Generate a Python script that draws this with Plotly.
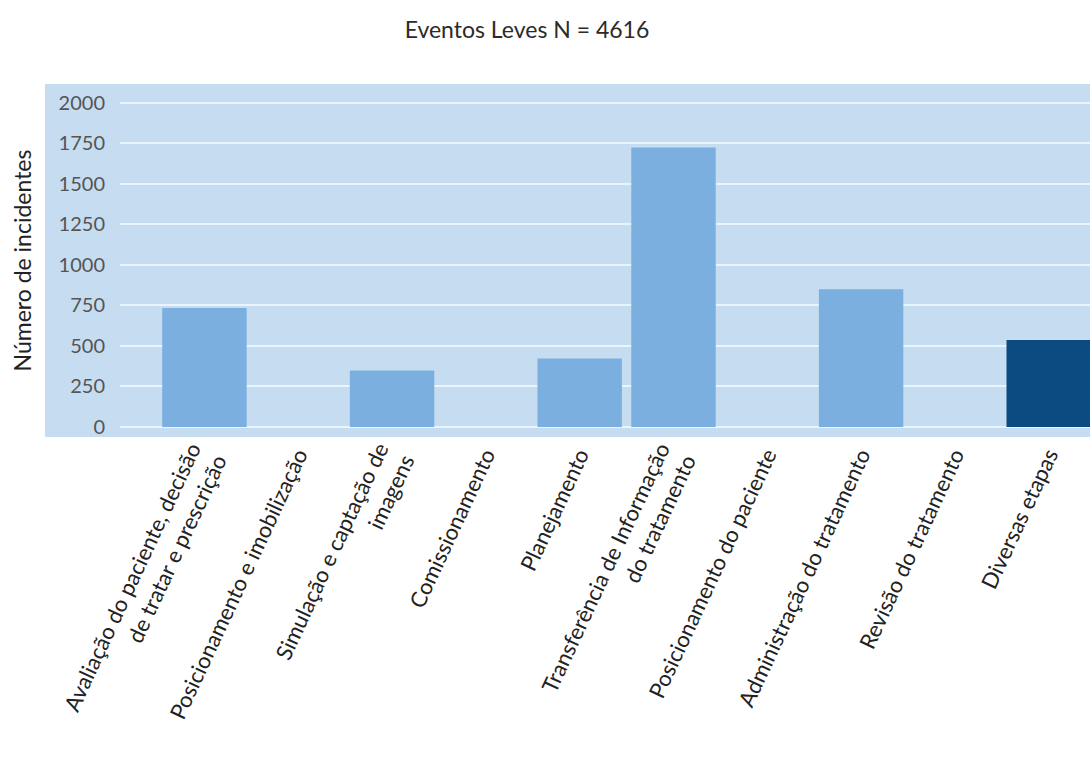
import plotly.graph_objects as go

categorias = [
    "Avaliação do paciente, decisão<br>de tratar e prescrição",
    "Posicionamento e imobilização",
    "Simulação e captação de<br>imagens",
    "Comissionamento",
    "Planejamento",
    "Transferência de Informação<br>do tratamento",
    "Posicionamento do paciente",
    "Administração do tratamento",
    "Revisão do tratamento",
    "Diversas etapas",
]
incidentes = [735, 0, 348, 0, 422, 1725, 0, 850, 0, 536]
cores = ["#7aafe0"] * 9 + ["#0c4a82"]
ticks_y = [0, 250, 500, 750, 1000, 1250, 1500, 1750, 2000]

fig = go.Figure(
    go.Bar(
        x=list(range(len(categorias))),
        y=incidentes,
        marker=dict(color=cores, line=dict(width=0)),
        width=0.9,
    )
)

painel = "#c6dcf0"

fig.update_layout(
    width=1090,
    height=758,
    margin=dict(l=120, r=0, t=84, b=321),
    paper_bgcolor="white",
    plot_bgcolor=painel,
    showlegend=False,
    font=dict(family="Lato", color="#333333"),
    title=dict(
        text="Eventos Leves N = 4616",
        x=527 / 1090,
        xanchor="center",
        y=1 - 30 / 758,
        yanchor="middle",
        font=dict(size=23, color="#2b2b2b", family="Lato"),
    ),
    shapes=[
        dict(
            type="rect",
            xref="paper",
            yref="paper",
            x0=-75 / 970,
            x1=1,
            y0=0,
            y1=1,
            fillcolor=painel,
            line=dict(width=0),
            layer="below",
        )
    ],
)

fig.update_xaxes(
    range=[-0.9, 9.44],
    tickvals=list(range(len(categorias))),
    ticktext=categorias,
    tickangle=-65,
    tickfont=dict(size=22, color="#222222", family="Lato"),
    showgrid=False,
    zeroline=False,
    showline=False,
    ticks="",
)

fig.update_yaxes(
    range=[-62, 2117],
    tickvals=ticks_y,
    tickfont=dict(size=20, color="#555555", family="Lato"),
    ticklabelstandoff=14,
    showgrid=True,
    gridcolor="#eaf4fd",
    gridwidth=2,
    zeroline=False,
    showline=False,
    ticks="",
    title=dict(
        text="Número de incidentes",
        font=dict(size=23, color="#222222", family="Lato"),
        standoff=20,
    ),
)

fig.write_html("out.html")
